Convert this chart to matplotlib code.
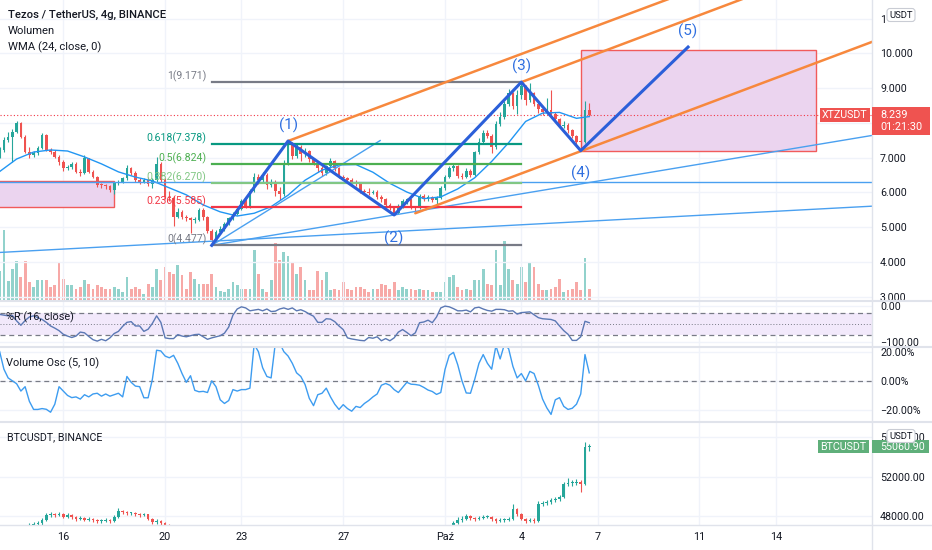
#!/usr/bin/env python3
import numpy as np
import matplotlib
matplotlib.use('Agg')
import matplotlib.pyplot as plt
import matplotlib.dates as mdates
from matplotlib.patches import Rectangle, FancyBboxPatch
from matplotlib.lines import Line2D
from matplotlib.ticker import FuncFormatter
from matplotlib.transforms import Affine2D

plt.rcParams['font.family'] = ['Roboto', 'DejaVu Sans']

W, H = 932, 550

# XTZ/USDT 4h candles, the first one opens at this time
first_candle = '2021-09-13 12:00'
xtz_open0 = 7.05
xtz_close = [
    7.22, 7.51, 7.60, 7.75, 7.99, 7.60, 7.17, 7.08, 7.12, 7.27,
    7.65, 7.22, 7.17, 7.03, 6.88, 6.69, 6.72, 6.83, 6.60, 6.55,
    6.98, 6.60, 6.45, 6.21, 6.20, 6.17, 6.07, 6.26, 6.31, 6.40,
    6.69, 6.55, 6.35, 6.30, 6.36, 6.25, 6.35, 6.83, 6.36, 5.88,
    5.85, 5.30, 5.45, 5.30, 5.25, 5.20, 5.22, 5.50, 5.28, 4.90,
    4.62, 4.86, 4.95, 5.10, 5.25, 5.38, 5.52, 5.75, 5.60, 6.05,
    6.45, 6.35, 6.50, 6.20, 6.30, 6.05, 5.95, 6.85, 7.40, 7.05,
    7.30, 7.10, 7.20, 6.95, 6.85, 6.70, 6.55, 6.75, 6.90, 6.70,
    6.45, 6.40, 6.35, 6.30, 6.25, 6.05, 6.00, 5.98, 6.02, 5.88,
    5.80, 5.65, 5.55, 5.40, 5.60, 5.75, 5.80, 5.58, 5.55, 5.90,
    5.80, 5.86, 5.78, 5.85, 6.12, 6.45, 6.70, 6.75, 6.48, 6.45,
    6.62, 6.50, 7.15, 7.45, 7.70, 7.62, 7.30, 7.98, 8.18, 8.55,
    8.85, 8.48, 8.80, 9.05, 8.65, 8.85, 8.55, 8.40, 8.30, 8.38,
    8.25, 8.10, 7.90, 7.95, 7.78, 7.62, 7.46, 7.45, 8.38, 8.239,
]
xtz_high = [
    7.30, 7.60, 7.75, 7.82, 8.05, 8.02, 7.66, 7.30, 7.20, 7.32,
    7.72, 7.68, 7.28, 7.22, 7.08, 6.92, 6.80, 6.88, 6.86, 6.66,
    7.07, 7.00, 6.64, 6.48, 6.28, 6.24, 6.20, 6.30, 6.36, 6.45,
    6.78, 6.72, 6.62, 6.40, 6.42, 6.45, 6.40, 7.02, 6.88, 6.40,
    6.05, 5.90, 5.55, 5.50, 5.35, 5.30, 5.28, 5.56, 5.56, 5.32,
    4.95, 4.92, 5.02, 5.15, 5.30, 5.45, 5.58, 5.82, 5.80, 6.10,
    6.55, 6.52, 6.58, 6.55, 6.38, 6.35, 6.15, 6.92, 7.478, 7.45,
    7.40, 7.36, 7.28, 7.22, 7.00, 6.90, 6.75, 6.80, 6.98, 6.92,
    6.74, 6.50, 6.44, 6.40, 6.36, 6.30, 6.10, 6.12, 6.08, 6.06,
    5.92, 5.84, 5.70, 5.60, 5.66, 5.80, 5.85, 5.82, 5.62, 5.96,
    5.94, 5.92, 5.90, 5.90, 6.18, 6.50, 6.76, 6.85, 6.78, 6.55,
    6.70, 6.68, 7.20, 7.55, 7.78, 7.80, 7.68, 8.05, 8.30, 8.62,
    8.98, 8.90, 8.95, 9.171, 9.10, 9.15, 8.90, 8.62, 8.45, 8.72,
    8.95, 8.30, 8.15, 8.05, 8.00, 7.82, 7.66, 7.52, 8.62, 8.56,
]
xtz_low = [
    6.98, 7.15, 7.45, 6.88, 7.70, 7.55, 7.12, 7.00, 7.02, 7.08,
    7.24, 7.18, 7.10, 6.98, 6.80, 6.62, 6.64, 6.68, 6.55, 6.48,
    6.52, 6.56, 6.40, 6.15, 6.14, 6.10, 6.00, 5.95, 6.20, 6.26,
    6.36, 6.50, 6.30, 6.25, 6.27, 6.18, 6.12, 6.30, 6.30, 5.82,
    5.75, 5.02, 5.25, 5.24, 5.18, 4.82, 5.12, 5.18, 5.22, 4.82,
    4.477, 4.58, 4.80, 4.90, 5.05, 5.20, 5.34, 5.48, 5.55, 5.55,
    6.00, 6.25, 6.30, 6.10, 6.15, 5.90, 5.78, 5.90, 6.80, 6.95,
    7.00, 6.90, 7.02, 6.88, 6.78, 6.60, 6.48, 6.50, 6.70, 6.62,
    6.40, 6.35, 6.30, 6.24, 6.18, 5.98, 5.94, 5.92, 5.94, 5.82,
    5.72, 5.60, 5.48, 5.35, 5.38, 5.56, 5.68, 5.52, 5.40, 5.52,
    5.74, 5.76, 5.72, 5.62, 5.82, 6.08, 6.40, 6.62, 6.40, 6.38,
    6.40, 6.44, 6.46, 7.10, 7.40, 7.55, 7.12, 7.25, 7.92, 8.12,
    8.48, 8.40, 8.25, 8.70, 8.50, 8.60, 8.48, 8.28, 8.22, 8.25,
    8.18, 8.05, 7.85, 7.85, 7.72, 7.55, 7.40, 7.20, 7.42, 8.20,
]
# volume, thousands of XTZ
xtz_volume = [
    600, 1420, 400, 640, 800, 480, 800, 380, 280, 420,
    420, 420, 280, 320, 780, 440, 320, 320, 240, 280,
    420, 340, 240, 320, 280, 240, 240, 280, 240, 180,
    480, 240, 280, 240, 140, 340, 280, 640, 420, 680,
    580, 540, 720, 520, 240, 580, 440, 340, 340, 340,
    540, 280, 200, 180, 240, 380, 320, 240, 240, 240,
    1020, 540, 240, 180, 420, 1160, 820, 980, 900, 780,
    540, 680, 420, 220, 220, 600, 420, 580, 220, 240,
    220, 380, 240, 220, 280, 280, 240, 180, 240, 240,
    340, 320, 240, 380, 220, 280, 240, 240, 220, 240,
    220, 220, 180, 180, 180, 380, 480, 520, 280, 220,
    240, 220, 420, 420, 640, 340, 320, 1020, 320, 1200,
    640, 420, 340, 680, 380, 780, 680, 340, 220, 220,
    240, 280, 440, 180, 220, 240, 380, 220, 860, 240,
]
# WMA(24) read every 4th candle
wma_idx = [0, 4, 8, 12, 16, 20, 24, 28, 32, 36, 40, 44, 48, 52, 56, 60, 64, 68,
           72, 76, 80, 84, 88, 92, 96, 100, 104, 108, 112, 116, 120, 124, 128,
           132, 136, 139]
wma_val = [6.60, 6.96, 7.16, 7.22, 7.19, 7.02, 6.82, 6.59, 6.44, 6.33, 6.13,
           5.93, 5.64, 5.44, 5.32, 5.40, 5.59, 5.92, 6.35, 6.64, 6.79, 6.80,
           6.58, 6.26, 6.01, 5.82, 5.87, 6.10, 6.42, 6.89, 7.43, 8.04, 8.28,
           8.30, 8.13, 8.18]
williams_r = [
    -23, -25, -27, -26, -41, -53, -40, -30, -27, -32,
    -37, -45, -55, -61, -68, -78, -83, -87, -83, -72,
    -74, -84, -93, -97, -92, -96, -88, -76, -70, -56,
    -45, -43, -55, -55, -70, -64, -48, -27, -45, -88,
    -90, -90, -79, -83, -85, -82, -79, -78, -85, -92,
    -88, -85, -82, -75, -58, -25, -8, -2, -5, -13,
    -11, -9, -13, -8, -15, -14, -8, -5, -9, -5,
    -13, -10, -15, -22, -28, -45, -45, -35, -36, -43,
    -55, -65, -88, -91, -93, -95, -96, -87, -89, -85,
    -96, -90, -96, -88, -72, -65, -73, -82, -74, -46,
    -44, -39, -46, -30, -5, 0, -2, -7, -13, -13,
    -11, -16, -5, -3, -8, -12, -14, -9, -9, -10,
    -14, -13, -22, -18, -17, -16, -24, -32, -35, -36,
    -37, -41, -55, -68, -78, -95, -95, -85, -42, -46,
]
volume_osc = [
    20, 8, 2, 0, -2, -7, -4, -14, -19.6, -19.6,
    -19, -19.5, -21.5, -16, -4, -7, -10, -11.5, -11, -12.5,
    -9.5, -11, -9, -8.5, -10.5, -9, -10.5, -9.5, -8.5, -11,
    3, -1, -3.6, -4, -11.6, -11.6, 1, 21, 20.5, 17,
    15.8, 17.5, 12, 5, -1, 3.5, -6.5, -7.5, -7.2, -8,
    0, -4, -13, -15.5, -13.5, -6, -7, -6, -6, -5,
    25, 20, 9, 3, 2, 26, 26, 20, 17, 12,
    5.5, 3, -2.5, -12, -17, -9.5, -8.5, -5, -11, -16,
    -19.6, -16.3, -19, -20.8, -17.5, -18.3, -15.5, -13.5, -11, -9,
    -3, -1.8, -3, -6, -8, -4.5, -1, -2.3, -2.5, -3,
    -4.5, -6.3, -7.3, -9.3, -8, 7.8, 17.5, 19.5, 11, 0,
    -8.3, -8.5, 1, 12, 18, 12, 8, 24, 15, 25,
    22, 10, 2, 5, 0, 6.5, 5, -3, -12.5, -18.5,
    -23, -13, -11.5, -17.5, -19.6, -18.8, -16, -9, 18, 5.5,
]
btc_open0 = 44700
btc_close = [
    44900, 45300, 45100, 45600, 46200, 46500, 46800, 47000,
    47200, 47300, 47600, 48100, 48200, 48100, 48250, 47900,
    48100, 47900, 47700, 47800, 47600, 47700, 47600, 47500,
    47500, 47600, 47500, 47900, 48500, 48400, 48300, 48300,
    48200, 48100, 48200, 47700, 47400, 47500, 47300, 47100,
    46500, 45500, 44000, 43000, 42800, 43200, 42500, 42200,
    42800, 42000, 40800, 41500, 42300, 43000, 42900, 43500,
    43200, 43600, 44000, 43800, 44200, 44500, 44300, 44600,
    44800, 44200, 43600, 43800, 42900, 42500, 42700, 42800,
    42900, 42200, 42500, 42700, 42400, 42300, 42800, 43000,
    43200, 42800, 42200, 41800, 41500, 41900, 42200, 42000,
    42100, 42400, 42600, 42900, 43200, 43800, 43500, 43200,
    42500, 41800, 42300, 42900, 43400, 43500, 43600, 43800,
    43900, 44000, 46500, 47300, 47600, 47700, 48000, 47800,
    47700, 47800, 47900, 47900, 47700, 47500, 47600, 47600,
    47700, 48700, 48200, 47700, 47500, 47600, 47500, 49200,
    49300, 49400, 49600, 49700, 49900, 51300, 51400, 51400,
    51500, 51300, 55000, 55060.9,
]
btc_high = [
    45200, 45500, 45400, 45800, 46400, 46700, 47000, 47250,
    47400, 47500, 47800, 48300, 48400, 48350, 48450, 48300,
    48300, 48200, 48000, 47950, 47850, 47850, 47800, 47700,
    47700, 47750, 47700, 48100, 48800, 48650, 48500, 48450,
    48400, 48300, 48350, 48250, 47800, 47700, 47600, 47400,
    47200, 46600, 45600, 44100, 43400, 43500, 43300, 42700,
    43000, 42900, 42200, 41800, 42500, 43300, 43200, 43700,
    43600, 43800, 44200, 44100, 44400, 44700, 44600, 44800,
    45000, 44900, 44300, 44000, 43900, 43000, 42900, 43000,
    43100, 43000, 42700, 42900, 42800, 42500, 43000, 43200,
    43400, 43300, 42900, 42300, 41900, 42100, 42400, 42300,
    42300, 42600, 42800, 43100, 43400, 44000, 43900, 43600,
    43300, 42600, 42500, 43100, 43600, 43700, 43800, 44000,
    44100, 44200, 46800, 47500, 47900, 47950, 48250, 48100,
    47900, 48000, 48100, 48150, 48000, 47800, 47800, 47800,
    47900, 49200, 48800, 48300, 47800, 47800, 47800, 49500,
    49500, 49600, 49800, 49900, 50100, 51500, 51900, 51700,
    51800, 51700, 55500, 55300,
]
btc_low = [
    44600, 44800, 44900, 45000, 45500, 46100, 46300, 46700,
    46800, 47000, 47100, 47500, 47900, 47900, 47950, 47800,
    47800, 47700, 47500, 47550, 47450, 47500, 47400, 47300,
    47300, 47400, 47300, 47400, 47800, 48200, 48100, 48100,
    48000, 47900, 47950, 47600, 47200, 47200, 47100, 46900,
    46300, 45300, 43800, 42800, 42500, 42600, 42300, 42000,
    42100, 41800, 40600, 40700, 41400, 42200, 42600, 42800,
    43000, 43100, 43500, 43600, 43700, 44100, 44100, 44200,
    44500, 44100, 43400, 43400, 42700, 42300, 42400, 42500,
    42700, 42000, 42100, 42400, 42200, 42100, 42200, 42700,
    42900, 42600, 42000, 41600, 41300, 41400, 41800, 41800,
    41900, 42000, 42300, 42500, 42800, 43100, 43300, 43000,
    42300, 41600, 41700, 42200, 42800, 43300, 43400, 43500,
    43700, 43800, 43900, 46400, 47200, 47400, 47600, 47600,
    47500, 47600, 47700, 47750, 47500, 47300, 47400, 47400,
    47500, 47600, 48000, 47600, 47300, 47400, 47300, 47400,
    49000, 49100, 49200, 49400, 49500, 49800, 51100, 51100,
    51200, 50400, 51200, 54600,
]

day_ticks = ['2021-09-16', '2021-09-20', '2021-09-23', '2021-09-27', '2021-10-01',
             '2021-10-04', '2021-10-07', '2021-10-11', '2021-10-14']
day_labels = ['16', '20', '23', '27', 'Paź', '4', '7', '11', '14']

# fibonacci retracement drawn between the (0) low and the (3) high
fib_price = [9.171, 7.378, 6.824, 6.270, 5.585, 4.477]
fib_text = ['1(9.171)', '0.618(7.378)', '0.5(6.824)', '0.382(6.270)', '0.236(5.585)', '0(4.477)']
fib_color = ['#787b86', '#089981', '#4caf50', '#81c784', '#f23645', '#787b86']
fib_from, fib_to = 50, 123

# drawing anchors: (candle index, price)
wave_pts = [(50, 4.477), (68, 7.478), (93, 5.35), (123, 9.171), (137, 7.20), (162.3, 10.18)]
wave_names = [None, '(1)', '(2)', '(3)', '(4)', '(5)']
orange_rays = [((68, 7.478), (157.1, 11.533)),
               ((123, 9.171), (174.5, 11.533)),
               ((98, 5.40), (205.6, 10.325))]
blue_seg = ((50, 4.477), (89.7, 7.49))
blue_ray = ((50, 4.477), (93, 5.35))
blue_trend = ((0.078, 4.273), (205.6, 5.603))
blue_level = 6.29
left_box = ((-10, 5.588), (26.95, 6.336))
target_box = ((137, 7.20), (192.5, 10.10))

last_price = 8.239
countdown = '01:21:30'
btc_last = 55060.90

GREEN, RED, TXT = '#26a69a', '#ef5350', '#131722'
GRID, SEP = '#f0f3fa', '#e0e3eb'
AXR = 871.7  # px where the price scale starts

x0 = mdates.datestr2num(first_candle)


def tx(i):
    return x0 + np.asarray(i, dtype=float) / 6.0


xs = tx(np.arange(len(xtz_close)))
tick_x = [mdates.datestr2num(d) for d in day_ticks]

fig = plt.figure(figsize=(W / 100, H / 100), dpi=100)
pix = Affine2D().scale(1 / W, -1 / H).translate(0, 1) + fig.transFigure


def pane(top, bottom, ylim, yticks, fmt, zorder=1):
    a = fig.add_axes([0, 1 - bottom / H, AXR / W, (bottom - top) / H], zorder=zorder)
    for s in a.spines.values():
        s.set_visible(False)
    a.set_xlim(tx(0.078), tx(205.6))
    a.set_ylim(*ylim)
    a.set_xticks(tick_x)
    a.tick_params(axis='x', length=0, labelbottom=False)
    a.set_yticks(yticks)
    a.yaxis.set_major_formatter(FuncFormatter(fmt))
    a.yaxis.tick_right()
    a.tick_params(axis='y', length=0, pad=6, labelsize=7.7, labelcolor=TXT)
    a.grid(True, color=GRID, lw=1)
    a.set_axisbelow(True)
    return a


def minus(s):
    return s.replace('-', '\u2212')


def price_fmt(v, p):
    # 8.000 sits under the last-price badge, 11.000 under the currency badge
    if abs(v - last_price) < 0.5:
        return ''
    if v > 10.5:
        return '1'
    return f'{v:.3f}'


def candles(a, o, h, l, c, min_body):
    o, h, l, c = map(np.asarray, (o, h, l, c))
    col = np.where(c >= o, GREEN, RED)
    a.vlines(xs, l, h, colors=col, lw=0.8, zorder=3)
    a.bar(xs, np.maximum(np.abs(c - o), min_body), 0.105, bottom=np.minimum(o, c),
          color=col, lw=0, zorder=4)


def ray(a, p0, p1, **kw):
    (i0, y0), (i1, y1) = p0, p1
    k = (y1 - y0) / (i1 - i0)
    a.plot([tx(i0), tx(240)], [y0, y0 + k * (240 - i0)], **kw)


# ---- main pane: price + volume overlay ----
ax = pane(0, 300.7, (2.885, 11.533), range(3, 12), price_fmt, zorder=2)
ax.patch.set_visible(False)
axv = fig.add_axes(ax.get_position().bounds, zorder=1)
axv.set_xlim(ax.get_xlim())
axv.set_ylim(0, 6000)
axv.axis('off')

xtz_open = [xtz_open0] + xtz_close[:-1]
vcol = np.where(np.array(xtz_close) >= np.array(xtz_open), '#92d2cc', '#f7a9a7')
axv.bar(xs, xtz_volume, 0.11, color=vcol, lw=0)

for (a0, b0) in [left_box, target_box]:
    ax.add_patch(Rectangle((tx(a0[0]), a0[1]), tx(b0[0]) - tx(a0[0]), b0[1] - a0[1],
                           facecolor='#ebd4ef', edgecolor='#f15b5b', lw=1, zorder=2))

candles(ax, xtz_open, xtz_high, xtz_low, xtz_close, 0.03)
ax.plot(tx(wma_idx), wma_val, color='#2196f3', lw=1, zorder=5)

ax.axhline(last_price, color='#f23645', ls=(0, (1, 2)), lw=0.8, zorder=2)

LB = '#4aa0f0'
ax.axhline(blue_level, color=LB, lw=1, zorder=5)
ax.axline((tx(blue_trend[0][0]), blue_trend[0][1]), (tx(blue_trend[1][0]), blue_trend[1][1]),
          color=LB, lw=1, zorder=5)
ax.plot(tx([blue_seg[0][0], blue_seg[1][0]]), [blue_seg[0][1], blue_seg[1][1]], color=LB, lw=1, zorder=5)
ray(ax, *blue_ray, color=LB, lw=1, zorder=5)

for p, t, c in zip(fib_price, fib_text, fib_color):
    ax.plot([tx(fib_from), tx(fib_to)], [p, p], color=c, lw=1.6, zorder=6)
    ax.annotate(t, (tx(fib_from), p), xytext=(-5, 0), textcoords='offset pixels',
                ha='right', va='bottom', color=c, fontsize=7.6, zorder=7)

for p0, p1 in orange_rays:
    ray(ax, p0, p1, color='#f7883d', lw=1.8, zorder=7, solid_capstyle='round')

ax.plot(tx([p[0] for p in wave_pts]), [p[1] for p in wave_pts], color='#2b5fd9', lw=2.2,
        zorder=8, solid_joinstyle='round')
for k, (name, (wi, wp)) in enumerate(zip(wave_names, wave_pts)):
    if name is None:
        continue
    dy = 16 if k in (1, 3, 5) else -23
    ax.annotate(name, (tx(wi), wp), xytext=(0, dy), textcoords='offset pixels',
                ha='center', va='center', color='#2f6fe0', fontsize=11, zorder=9)

# ---- %R pane ----
ax_wr = pane(300.7, 347, (-113.3, 15), [0, -100], lambda v, p: minus(f'{v:.2f}'))
ax_wr.axhspan(-80, -20, color='#f2e9fb', lw=0, zorder=1)
for lvl in (-20, -80):
    ax_wr.axhline(lvl, color='#787b86', lw=0.9, ls=(0, (4, 3)), zorder=2)
ax_wr.axhline(-50, color='#787b86', lw=0.7, ls=(0, (1, 2)), zorder=2)
ax_wr.plot(xs, williams_r, color='#5b78b4', lw=1, zorder=3)

# ---- volume oscillator pane ----
ax_vo = pane(347, 421.7, (-28, 23.2), [20, 0, -20], lambda v, p: minus(f'{v:.2f}%'))
ax_vo.axhline(0, color='#787b86', lw=0.9, ls=(0, (4, 3)), zorder=2)
ax_vo.plot(xs, volume_osc, color='#3d9cf0', lw=1, zorder=3)

# ---- BTC pane ----
ax_btc = pane(421.7, 525, (47085, 57595), [48000, 52000, 56000], lambda v, p: f'{v:.2f}')
btc_open = [btc_open0] + btc_close[:-1]
candles(ax_btc, btc_open, btc_high, btc_low, btc_close, 80)
ax_btc.tick_params(axis='x', labelbottom=True, pad=4.7, labelsize=7.8, labelcolor=TXT)
ax_btc.set_xticklabels(day_labels)

# ---- legends ----
fig.text(7.7, 15, 'Tezos / TetherUS, 4g, BINANCE', transform=pix, va='center',
         fontsize=8.1, color=TXT, fontweight='medium')
fig.text(7.7, 31, 'Wolumen', transform=pix, va='center', fontsize=8.1, color=TXT)
fig.text(7.7, 47, 'WMA (24, close, 0)', transform=pix, va='center', fontsize=8.1, color=TXT)
fig.text(6, 317, '%R (16, close)', transform=pix, va='center', fontsize=7.8, color=TXT)
fig.text(6.5, 363, 'Volume Osc (5, 10)', transform=pix, va='center', fontsize=7.9, color=TXT)
fig.text(7, 437.5, 'BTCUSDT, BINANCE', transform=pix, va='center', fontsize=7.7, color=TXT)


def ypix(a, v):
    return H - a.transData.transform((tx(0), v))[1]


# last price labels
yp = ypix(ax, last_price)
fig.add_artist(Rectangle((872, yp - 7.5), 58, 28, transform=pix, fc=RED, ec='none', zorder=10))
fig.text(880, yp, f'{last_price:.3f}', transform=pix, va='center', color='white', fontsize=7.8, zorder=11)
fig.text(880, yp + 12.5, countdown, transform=pix, va='center', color='white', fontsize=7.8, zorder=11)
fig.add_artist(Rectangle((820, yp - 7), 50, 14, transform=pix, fc=RED, ec='none', zorder=10))
fig.text(845, yp, 'XTZUSDT', transform=pix, va='center', ha='center', color='white',
         fontsize=7.7, zorder=11)

yb = ypix(ax_btc, btc_last)
BG = '#5faf7a'
fig.add_artist(Rectangle((818, yb - 6.5), 51, 13, transform=pix, fc=BG, ec='none', zorder=10))
fig.text(843.5, yb, 'BTCUSDT', transform=pix, va='center', ha='center', color='white',
         fontsize=7.7, zorder=11)
fig.add_artist(Rectangle((872, yb - 6.5), 57, 13, transform=pix, fc=BG, ec='none', zorder=10))
fig.text(880, yb, f'{btc_last:.2f}', transform=pix, va='center', color='white', fontsize=7.7, zorder=11)

for ytop in (8.5, 429.5):
    fig.add_artist(FancyBboxPatch((887, ytop), 28, 13, boxstyle='round,pad=0,rounding_size=3',
                                  transform=pix, fc='white', ec='#c9ccd4', lw=0.8, zorder=12))
    fig.text(901, ytop + 6.7, 'USDT', transform=pix, va='center', ha='center', color=TXT,
             fontsize=6.8, zorder=13)

# pane separators and the price-scale border
for y in (300.7, 347, 421.7):
    fig.add_artist(Line2D([0, W], [y, y], transform=pix, color=SEP, lw=1.5, zorder=9))
fig.add_artist(Line2D([0, W], [525, 525], transform=pix, color=SEP, lw=1, zorder=9))
fig.add_artist(Line2D([AXR, AXR], [0, H], transform=pix, color=SEP, lw=1, zorder=9))

fig.savefig('out.png', dpi=100, facecolor='white')
